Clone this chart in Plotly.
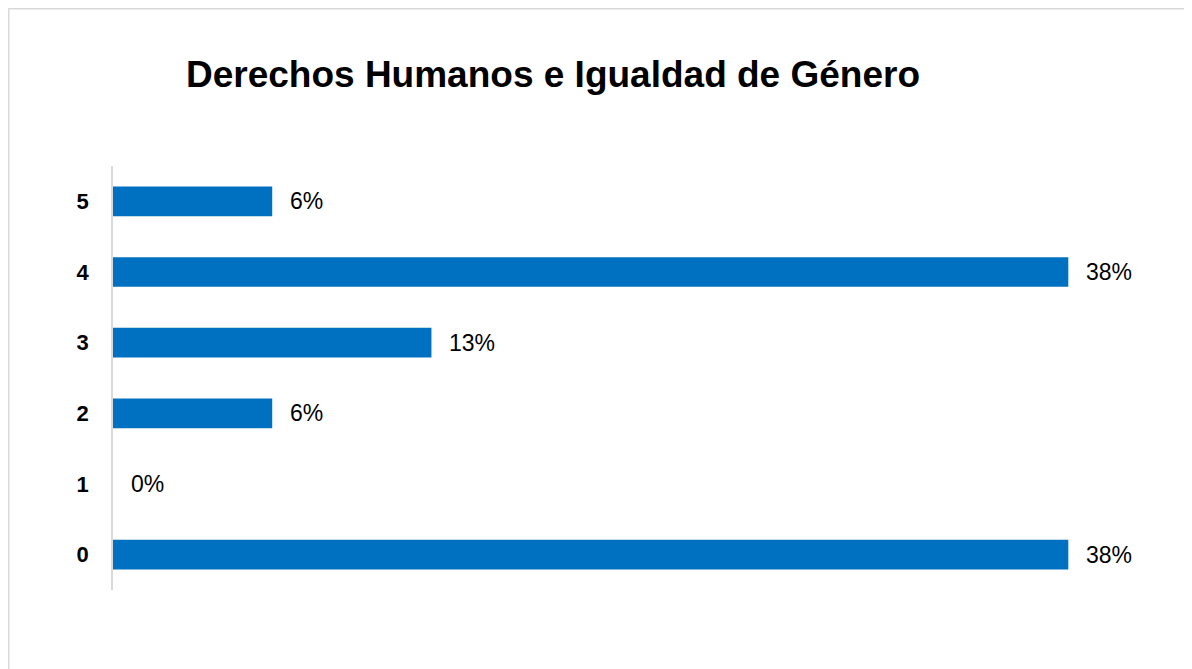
import plotly.graph_objects as go

categories = ["0", "1", "2", "3", "4", "5"]
values = [37.5, 0, 6.25, 12.5, 37.5, 6.25]
labels = ["38%", "0%", "6%", "13%", "38%", "6%"]
title = "Derechos Humanos e Igualdad de Género"

W, H = 1192, 669
ml, mr, mt, mb = 105, 68, 158, 87
pw = W - ml - mr
ph = H - mt - mb

fig = go.Figure()
fig.add_trace(go.Bar(
    x=values, y=categories, orientation="h",
    marker=dict(color="#0070C0", line=dict(width=0)),
    hoverinfo="skip",
))

for v, c, t in zip(values, categories, labels):
    fig.add_annotation(x=v, y=c, text=t, xanchor="left", yanchor="middle",
                       xshift=16, showarrow=False,
                       font=dict(family="Arial, Liberation Sans", size=23, color="#000000"))

def px2paper_x(p):
    return (p - ml) / pw

def px2paper_y(p):
    return (H - mb - p) / ph

fig.add_shape(type="rect", xref="paper", yref="paper",
              x0=px2paper_x(0.5), x1=px2paper_x(1400),
              y0=px2paper_y(900), y1=px2paper_y(0.5),
              line=dict(color="#d9d9d9", width=2), fillcolor="rgba(0,0,0,0)", layer="below")

fig.update_layout(
    width=W, height=H,
    margin=dict(l=ml, r=mr, t=mt, b=mb, autoexpand=False),
    paper_bgcolor="white", plot_bgcolor="white",
    bargap=0.58,
    showlegend=False,
    title=dict(text="<b>" + title + "</b>", x=545 / W, xref="container", xanchor="center",
               y=1 - 66 / H, yref="container", yanchor="middle",
               font=dict(family="Arial, Liberation Sans", size=37, color="#000000")),
    xaxis=dict(range=[0, 40], visible=False, fixedrange=True),
    yaxis=dict(categoryorder="array", categoryarray=categories,
               showline=True, linecolor="#d9d9d9", linewidth=1.5,
               showgrid=False, zeroline=False, ticks="",
               ticklabelstandoff=18,
               tickfont=dict(family="Arial, Liberation Sans", size=22, color="#000000", weight="bold")),
    font=dict(family="Arial, Liberation Sans"),
)

fig.write_html("out.html")
